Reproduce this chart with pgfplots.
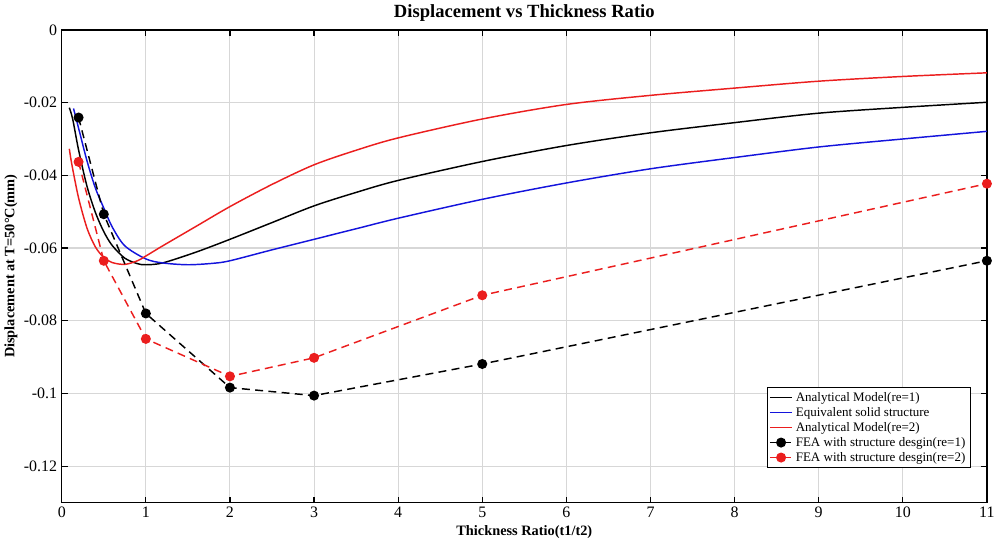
\documentclass[border=0pt]{standalone}
\usepackage{fontspec}
\setmainfont{Liberation Serif}
\usepackage{pgfplots}
\pgfplotsset{compat=1.18}

\definecolor{gridgray}{RGB}{215,215,215}
\definecolor{mred}{RGB}{235,30,30}
\definecolor{mblue}{RGB}{20,20,220}

\begin{document}
\begin{tikzpicture}
\begin{axis}[
    width=697pt, height=356pt,
    scale only axis,
    xmin=0, xmax=11, ymin=-0.13, ymax=0,
    xtick={0,1,...,11},
    ytick={-0.12,-0.1,-0.08,-0.06,-0.04,-0.02,0},
    yticklabels={-0.12,-0.1,-0.08,-0.06,-0.04,-0.02,0},
    scaled y ticks=false,
    /pgf/number format/assume math mode=true,
    tick label style={font=\fontsize{12}{14}\selectfont},
    grid=major,
    major grid style={gridgray, line width=0.8pt},
    axis line style={line width=1.1pt},
    tick style={black, line width=0.9pt},
    major tick length=4.5pt,
    tick align=inside,
    title={\textbf{Displacement vs Thickness Ratio}},
    title style={font=\fontsize{14}{16}\selectfont, yshift=-3pt},
    xlabel={\textbf{Thickness Ratio(t1/t2)}},
    ylabel={\textbf{Displacement at T=50°C(mm)}},
    label style={font=\fontsize{10.8}{12}\selectfont},
    xlabel style={yshift=1pt},
    ylabel style={yshift=-2pt},
    legend style={at={(0.982,0.073)}, anchor=south east, draw=black,
        font=\fontsize{9.8}{11}\selectfont, inner sep=1.5pt, row sep=-1pt,
        cells={anchor=west}},
    legend cell align=left,
]
% Analytical Model (re=1)
\addplot[black, line width=1.1pt, smooth] coordinates {
(0.09,-0.0214) (0.13,-0.0245) (0.2,-0.0330) (0.3,-0.0430) (0.4,-0.0502)
(0.5,-0.0555) (0.6,-0.0593) (0.75,-0.0628) (0.9,-0.0643) (1.0,-0.0646)
(1.2,-0.0641) (1.6,-0.0611) (2,-0.0576) (2.5,-0.0530) (3,-0.0484)
(3.5,-0.0447) (4,-0.0414) (5,-0.0362) (6,-0.0318) (7,-0.0283)
(8,-0.0255) (9,-0.0229) (10,-0.0213) (11,-0.0199)};
\addlegendentry{Analytical Model(re=1)}
% Equivalent solid structure
\addplot[mblue, line width=1.1pt, smooth] coordinates {
(0.14,-0.0216) (0.2,-0.0270) (0.3,-0.0360) (0.4,-0.0435) (0.5,-0.0490)
(0.6,-0.0542) (0.75,-0.0594) (1.0,-0.0630) (1.2,-0.0641) (1.5,-0.0646)
(1.8,-0.0642) (2,-0.0635) (2.5,-0.0605) (3,-0.0576) (3.5,-0.0547)
(4,-0.0518) (5,-0.0466) (6,-0.0421) (7,-0.0382) (8,-0.0351)
(9,-0.0322) (10,-0.0300) (11,-0.0279)};
\addlegendentry{Equivalent solid structure}
% Analytical Model (re=2)
\addplot[mred, line width=1.1pt, smooth] coordinates {
(0.09,-0.0327) (0.12,-0.0370) (0.2,-0.0462) (0.3,-0.0545) (0.4,-0.0597)
(0.5,-0.0626) (0.6,-0.0640) (0.75,-0.0645) (0.9,-0.0635) (1.0,-0.0622)
(1.2,-0.0594) (1.6,-0.0540) (2,-0.0486) (2.5,-0.0425) (3,-0.0371)
(3.5,-0.0331) (4,-0.0297) (5,-0.0245) (6,-0.0205) (7,-0.0180)
(8,-0.0160) (9,-0.0141) (10,-0.0128) (11,-0.0118)};
\addlegendentry{Analytical Model(re=2)}
% FEA re=1
\addplot[black, line width=1.1pt, dash pattern=on 6pt off 4pt, mark=*,
    mark size=3.2pt, mark options={solid}] coordinates {
(0.2,-0.0241) (0.5,-0.0507) (1,-0.0780) (2,-0.0984) (3,-0.1006)
(5,-0.0919) (11,-0.0635)};
\addlegendentry{FEA with structure desgin(re=1)}
% FEA re=2
\addplot[mred, line width=1.1pt, dash pattern=on 6pt off 4pt, mark=*,
    mark size=3.2pt, mark options={solid}] coordinates {
(0.2,-0.0363) (0.5,-0.0635) (1,-0.0850) (2,-0.0953) (3,-0.0902)
(5,-0.0730) (11,-0.0423)};
\addlegendentry{FEA with structure desgin(re=2)}
\end{axis}
\end{tikzpicture}
\end{document}
